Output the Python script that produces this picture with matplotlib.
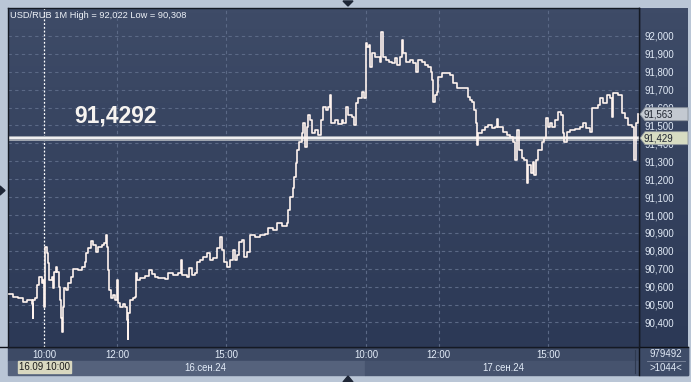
import numpy as np
import matplotlib
matplotlib.use("Agg")
import matplotlib.pyplot as plt
from matplotlib.patches import Polygon, Rectangle
from matplotlib import transforms

plt.rcParams['font.family'] = ['Liberation Sans', 'DejaVu Sans']

# minute bars since 16.09 09:00 (day 2 session starts at minute 590 = 17.09 10:00)
minutes = [2, 8, 16, 25, 31, 40, 41, 42, 44, 48, 51, 56, 58, 59, 61, 64, 66, 68, 73, 74,
           76, 79, 81, 84, 86, 87, 89, 91, 92, 96, 99, 104, 107, 115, 122, 127, 129, 132, 137, 140,
           145, 148, 155, 158, 162, 163, 165, 166, 170, 173, 176, 180, 181, 185, 190, 193, 196, 197, 198, 201,
           206, 209, 211, 213, 218, 226, 232, 237, 242, 247, 259, 264, 272, 280, 285, 287, 295, 298, 303, 308,
           311, 316, 321, 328, 333, 338, 344, 349, 353, 356, 361, 366, 371, 374, 377, 381, 386, 389, 394, 399,
           407, 415, 424, 428, 437, 443, 452, 460, 461, 465, 470, 471, 475, 476, 480, 485, 486, 489, 493, 494,
           498, 501, 506, 511, 516, 519, 524, 527, 531, 532, 539, 544, 550, 552, 557, 560, 567, 570, 574, 577,
           583, 587,
           590, 592, 595, 597, 600, 605, 610, 613, 614, 618, 623, 628, 633, 638, 641, 646, 649, 651, 656, 662,
           667, 672, 676, 682, 687, 692, 697, 699, 700, 704, 707, 709, 715, 723, 728, 733, 740, 745, 753, 758,
           761, 764, 768, 771, 773, 775, 781, 786, 791, 798, 803, 806, 808, 816, 822, 827, 832, 836, 839, 843,
           847, 850, 855, 857, 862, 865, 867, 870, 873, 880, 883, 887, 890, 893, 896, 901, 906, 911, 915, 916,
           921, 926, 935, 943, 948, 953, 959, 962, 967, 972, 976, 981, 987, 992, 995, 997, 1003, 1006, 1012, 1017,
           1022, 1028, 1030, 1032, 1035, 1038]
prices = [90.559, 90.542, 90.536, 90.514, 90.525, 90.503, 90.425, 90.525, 90.536, 90.609, 90.654, 90.620, 90.637, 90.486, 90.821, 90.788, 90.732, 90.637, 90.654, 90.592,
          90.682, 90.709, 90.682, 90.598, 90.525, 90.425, 90.346, 90.486, 90.592, 90.581, 90.620, 90.654, 90.698, 90.693, 90.709, 90.737, 90.788, 90.816, 90.855, 90.832,
          90.793, 90.821, 90.832, 90.844, 90.888, 90.821, 90.693, 90.581, 90.536, 90.553, 90.525, 90.637, 90.508, 90.486, 90.503, 90.486, 90.413, 90.308, 90.453, 90.525,
          90.536, 90.542, 90.676, 90.637, 90.648, 90.659, 90.693, 90.670, 90.654, 90.648, 90.642, 90.676, 90.665, 90.676, 90.749, 90.665, 90.654, 90.704, 90.665, 90.676,
          90.737, 90.749, 90.765, 90.788, 90.749, 90.760, 90.816, 90.877, 90.804, 90.737, 90.709, 90.749, 90.804, 90.749, 90.777, 90.849, 90.860, 90.765, 90.793, 90.888,
          90.877, 90.888, 90.894, 90.927, 90.916, 90.955, 90.939, 90.955, 91.028, 91.101, 91.151, 91.212, 91.291, 91.363, 91.408, 91.458, 91.514, 91.380, 91.492, 91.559,
          91.531, 91.458, 91.475, 91.447, 91.531, 91.603, 91.587, 91.603, 91.670, 91.514, 91.531, 91.508, 91.531, 91.514, 91.603, 91.559, 91.547, 91.503, 91.626, 91.654,
          91.687, 91.654,
          91.961, 91.939, 91.950, 91.827, 91.905, 91.883, 91.883, 91.855, 92.022, 91.883, 91.866, 91.855, 91.849, 91.877, 91.838, 91.883, 91.978, 91.905, 91.855, 91.866,
          91.849, 91.799, 91.866, 91.855, 91.838, 91.827, 91.799, 91.754, 91.631, 91.670, 91.687, 91.771, 91.793, 91.793, 91.782, 91.737, 91.709, 91.709, 91.709, 91.659,
          91.642, 91.631, 91.587, 91.514, 91.391, 91.458, 91.475, 91.492, 91.503, 91.486, 91.492, 91.536, 91.492, 91.464, 91.447, 91.436, 91.408, 91.307, 91.475, 91.363,
          91.318, 91.307, 91.179, 91.279, 91.235, 91.296, 91.223, 91.307, 91.363, 91.408, 91.430, 91.542, 91.492, 91.514, 91.492, 91.531, 91.575, 91.559, 91.458, 91.408,
          91.464, 91.475, 91.480, 91.492, 91.514, 91.486, 91.464, 91.598, 91.598, 91.615, 91.654, 91.626, 91.670, 91.654, 91.547, 91.682, 91.682, 91.670, 91.570, 91.542,
          91.503, 91.492, 91.492, 91.307, 91.514, 91.563]

level = 91.4292
last_price = 91.563
y_ticks = [90.4, 90.5, 90.6, 90.7, 90.8, 90.9, 91.0, 91.1, 91.2, 91.3, 91.4, 91.5, 91.6, 91.7, 91.8, 91.9, 92.0]
x_ticks = [60, 180, 360, 590, 710, 890]
x_labels = ['10:00', '12:00', '15:00', '10:00', '12:00', '15:00']
day_pos = [326, 816]
day_labels = ['16.сен.24', '17.сен.24']
title = 'USD/RUB 1M High = 92,022 Low = 90,308'

W, H = 691, 382
fig = plt.figure(figsize=(W / 100, H / 100), dpi=100)
fig.patch.set_facecolor('#bac6d6')


def fx(px):
    return px / W


def fy(py):
    return 1 - py / H


grad = np.linspace(0, 1, 64)[:, None]
top_c = np.array([0x3e, 0x4b, 0x67]) / 255
bot_c = np.array([0x2c, 0x39, 0x56]) / 255
grad_img = (top_c * (1 - grad[..., None]) + bot_c * grad[..., None])

# plot area
ax = fig.add_axes([fx(8), fy(347), fx(639 - 8), fy(8) - fy(347)])
ax.set_zorder(2)
ax.imshow(grad_img, extent=[0, 1, 0, 1], transform=ax.transAxes, aspect='auto', zorder=0)
ax.set_xlim(0, 1040)
ax.set_ylim(90.263, 92.156)

# right price panel
rax = fig.add_axes([fx(639), fy(347), fx(688 - 639), fy(8) - fy(347)])
rax.set_zorder(1)
rax.imshow(grad_img, extent=[0, 1, 0, 1], transform=rax.transAxes, aspect='auto')
rax.set_axis_off()

# bottom bands
fig.patches.append(Rectangle((fx(8), fy(361)), fx(688 - 8), fy(347) - fy(361),
                             transform=fig.transFigure, color='#3d4a65', zorder=0))
fig.patches.append(Rectangle((fx(8), fy(375)), fx(365 - 8), fy(361) - fy(375),
                             transform=fig.transFigure, color='#55627c', zorder=0))
fig.patches.append(Rectangle((fx(365), fy(375)), fx(688 - 365), fy(361) - fy(375),
                             transform=fig.transFigure, color='#46536e', zorder=0))
fig.patches.append(Rectangle((fx(639), fy(375)), fx(688 - 639), fy(347) - fy(375),
                             transform=fig.transFigure, color='#3e4c68', zorder=0))

# grid
for yv in y_ticks:
    ax.axhline(yv, color='#5b6986', lw=0.8, dashes=(3, 3), zorder=1)
for xv in x_ticks[1:]:
    ax.axvline(xv, color='#5b6986', lw=0.8, dashes=(3, 3), zorder=1)
ax.axvline(x_ticks[0], color='white', lw=0.9, dashes=(1.5, 1.5), zorder=1)

# level line
ax.axhline(level, color='#9ea4ae', lw=3.6, zorder=2)
ax.axhline(level, color='#f2f2f2', lw=1.4, zorder=2)

ax.plot(minutes, prices, color='#fff3ee', lw=1.2, drawstyle='steps-post', zorder=3)

ax.annotate(f'{level:.4f}'.replace('.', ','), xy=(109, level), xytext=(0, 11),
            textcoords='offset points', va='baseline', ha='left',
            fontsize=16.5, fontweight='bold', color='#f6f3f0', zorder=4)

ax.text(0.003, 0.978, title, transform=ax.transAxes, ha='left', va='center',
        fontsize=6.7, color='#eef2f8', zorder=4)

ax.set_xticks([])
ax.set_yticks(y_ticks)
ax.set_yticklabels([f'{v:,.3f}'.replace('.', ',') for v in y_ticks])
ax.yaxis.tick_right()
ax.tick_params(axis='y', length=0, pad=4, labelsize=6.9, labelcolor='#e3ecf8')
for s in ax.spines.values():
    s.set_color('#151a24')
    s.set_linewidth(1)

# time labels and dates
tr = transforms.blended_transform_factory(ax.transData, fig.transFigure)
for xv, lab in zip(x_ticks, x_labels):
    ax.text(xv, fy(355), lab, transform=tr, ha='center', va='center',
            fontsize=6.9, color='#e3ecf8', clip_on=False)
for xv, lab in zip(day_pos, day_labels):
    ax.text(xv, fy(368), lab, transform=tr, ha='center', va='center',
            fontsize=6.9, color='#e3ecf8', clip_on=False)

fig.patches.append(Rectangle((fx(18), fy(373)), fx(71 - 18), fy(361) - fy(373),
                             transform=fig.transFigure, color='#d9d8c0', zorder=3))
fig.text(fx(44.5), fy(367.5), '16.09 10:00', ha='center', va='center', fontsize=6.9,
         color='#1a1a1a', zorder=4)

# price tags
ty = transforms.blended_transform_factory(fig.transFigure, ax.transData)
dy = 6.5 / 179
for val, face in [(last_price, '#c3c9d1'), (level, '#d7dcc2')]:
    pts = [(fx(640), val), (fx(645), val + dy), (fx(688), val + dy),
           (fx(688), val - dy), (fx(645), val - dy)]
    fig.patches.append(Polygon(pts, closed=True, transform=ty, facecolor=face,
                               edgecolor='#8c939c', lw=0.6, zorder=5))
    fig.text(fx(644), val, f'{val:.3f}'.replace('.', ','), transform=ty, ha='left',
             va='center', fontsize=6.9, color='#1e2430', zorder=6)

# separators
fig.add_artist(plt.Line2D([fx(0), fx(688)], [fy(347), fy(347)], color='#0e1118', lw=1))
fig.add_artist(plt.Line2D([fx(639), fx(639)], [fy(8), fy(375)], color='#0e1118', lw=1))
fig.add_artist(plt.Line2D([fx(635), fx(635)], [fy(350), fy(373)], color='#2e3950', lw=0.8))
fig.add_artist(plt.Line2D([fx(647), fx(685)], [fy(361), fy(361)], color='#7f8aa0', lw=0.6))
fig.text(fx(666), fy(354), '979492', ha='center', va='center', fontsize=6.9, color='#e3ecf8')
fig.text(fx(666), fy(368), '>1044<', ha='center', va='center', fontsize=6.9, color='#e3ecf8')

# small scroll markers
for pts in [[(343, 1), (353, 1), (348, 6)], [(343, 382), (353, 382), (348, 376)],
            [(0, 186), (0, 195), (5, 190.5)]]:
    fig.patches.append(Polygon([(fx(a), fy(b)) for a, b in pts], closed=True,
                               transform=fig.transFigure, color='#1e2636', zorder=5))

fig.savefig('out.png', dpi=100)
